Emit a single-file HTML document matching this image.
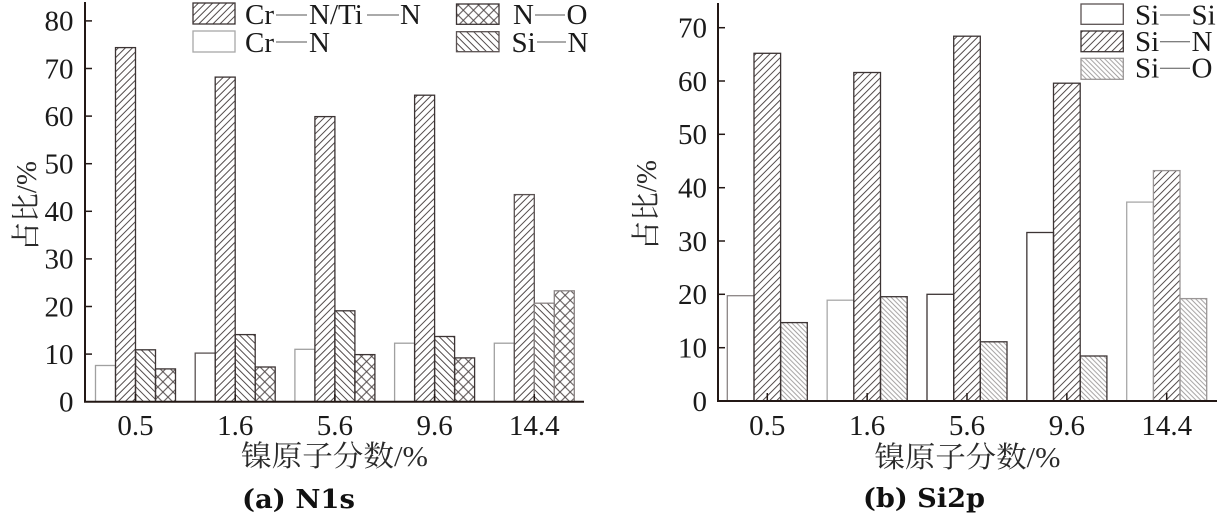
<!DOCTYPE html>
<html>
<head>
<meta charset="utf-8">
<style>
  html, body { margin: 0; padding: 0; background: #ffffff; }
  body { width: 1224px; height: 521px; overflow: hidden; }
  svg { display: block; }
  .t { font-family: "Liberation Serif", "Noto Serif CJK SC", serif; fill: #1a1a1a; }
  .cjk { font-family: "Liberation Serif", "Noto Serif CJK SC", serif; fill: #2a2a2a; }
  .ttl { font-family: "DejaVu Serif", "Liberation Serif", serif; font-weight: bold; fill: #111; }
</style>
</head>
<body>
<svg width="1224" height="521" viewBox="0 0 1224 521" xmlns="http://www.w3.org/2000/svg">
  <defs>
    <pattern id="fwd" width="5" height="5" patternUnits="userSpaceOnUse" patternTransform="rotate(45)">
      <line x1="2.5" y1="0" x2="2.5" y2="5" stroke="#4a4242" stroke-width="0.95"/>
    </pattern>
    <pattern id="bwd" width="5" height="5" patternUnits="userSpaceOnUse" patternTransform="rotate(-45)">
      <line x1="2.5" y1="0" x2="2.5" y2="5" stroke="#4a4242" stroke-width="0.95"/>
    </pattern>
    <pattern id="cross" width="7.2" height="7.2" patternUnits="userSpaceOnUse" patternTransform="rotate(45)">
      <line x1="3.6" y1="0" x2="3.6" y2="7.2" stroke="#4a4242" stroke-width="0.95"/>
      <line x1="0" y1="3.6" x2="7.2" y2="3.6" stroke="#4a4242" stroke-width="0.95"/>
    </pattern>
    <pattern id="bwdL" width="3.4" height="3.4" patternUnits="userSpaceOnUse" patternTransform="rotate(-45)">
      <line x1="1.7" y1="0" x2="1.7" y2="3.4" stroke="#8e8a8a" stroke-width="0.8"/>
    </pattern>
  </defs>

  <!-- ================= LEFT CHART (a) ================= -->
  <g stroke-width="1.3">
    <rect x="95.5" y="365.5" width="20" height="36.2" fill="#fff" stroke="#a0a0a0"/>
    <rect x="115.5" y="47.6" width="20" height="354.1" fill="url(#fwd)" stroke="#3c3434"/>
    <rect x="135.5" y="349.8" width="20" height="51.9" fill="url(#bwd)" stroke="#3c3434"/>
    <rect x="155.5" y="368.9" width="20" height="32.8" fill="url(#cross)" stroke="#3c3434"/>

    <rect x="195.2" y="353.1" width="20" height="48.6" fill="#fff" stroke="#5a5252"/>
    <rect x="215.2" y="77.1" width="20" height="324.6" fill="url(#fwd)" stroke="#3c3434"/>
    <rect x="235.2" y="334.6" width="20" height="67.1" fill="url(#bwd)" stroke="#3c3434"/>
    <rect x="255.2" y="367.0" width="20" height="34.7" fill="url(#cross)" stroke="#3c3434"/>

    <rect x="294.9" y="349.3" width="20" height="52.4" fill="#fff" stroke="#a0a0a0"/>
    <rect x="314.9" y="116.6" width="20" height="285.1" fill="url(#fwd)" stroke="#3c3434"/>
    <rect x="334.9" y="310.8" width="20" height="90.9" fill="url(#bwd)" stroke="#3c3434"/>
    <rect x="354.9" y="354.6" width="20" height="47.1" fill="url(#cross)" stroke="#3c3434"/>

    <rect x="394.6" y="343.2" width="20" height="58.5" fill="#fff" stroke="#a0a0a0"/>
    <rect x="414.6" y="95.2" width="20" height="306.5" fill="url(#fwd)" stroke="#3c3434"/>
    <rect x="434.6" y="336.5" width="20" height="65.2" fill="url(#bwd)" stroke="#3c3434"/>
    <rect x="454.6" y="357.9" width="20" height="43.8" fill="url(#cross)" stroke="#3c3434"/>

    <rect x="494.3" y="343.2" width="20" height="58.5" fill="#fff" stroke="#a0a0a0"/>
    <rect x="514.3" y="194.6" width="20" height="207.1" fill="url(#fwd)" stroke="#5a5252"/>
    <rect x="534.3" y="303.2" width="20" height="98.5" fill="url(#bwd)" stroke="#8a8484"/>
    <rect x="554.3" y="290.8" width="20" height="110.9" fill="url(#cross)" stroke="#8a8484"/>
  </g>

  <g stroke="#231815" stroke-width="2" fill="none">
    <line x1="85" y1="2" x2="85" y2="402.5"/>
    <line x1="84" y1="401.7" x2="584" y2="401.7"/>
  </g>
  <g stroke="#231815" stroke-width="1.5">
    <line x1="85" y1="354.1" x2="92" y2="354.1"/>
    <line x1="85" y1="306.5" x2="92" y2="306.5"/>
    <line x1="85" y1="258.9" x2="92" y2="258.9"/>
    <line x1="85" y1="211.3" x2="92" y2="211.3"/>
    <line x1="85" y1="163.7" x2="92" y2="163.7"/>
    <line x1="85" y1="116.1" x2="92" y2="116.1"/>
    <line x1="85" y1="68.5" x2="92" y2="68.5"/>
    <line x1="85" y1="20.9" x2="92" y2="20.9"/>
    <line x1="135.5" y1="401.7" x2="135.5" y2="394"/>
    <line x1="235.2" y1="401.7" x2="235.2" y2="394"/>
    <line x1="334.9" y1="401.7" x2="334.9" y2="394"/>
    <line x1="434.6" y1="401.7" x2="434.6" y2="394"/>
    <line x1="534.3" y1="401.7" x2="534.3" y2="394"/>
  </g>

  <g class="t" font-size="29" text-anchor="end">
    <text x="73.5" y="411.5">0</text>
    <text x="73.5" y="363.9">10</text>
    <text x="73.5" y="316.3">20</text>
    <text x="73.5" y="268.7">30</text>
    <text x="73.5" y="221.1">40</text>
    <text x="73.5" y="173.5">50</text>
    <text x="73.5" y="125.9">60</text>
    <text x="73.5" y="78.3">70</text>
    <text x="73.5" y="30.7">80</text>
  </g>
  <g class="t" font-size="29" text-anchor="middle">
    <text x="135.5" y="435">0.5</text>
    <text x="235.2" y="435">1.6</text>
    <text x="334.9" y="435">5.6</text>
    <text x="434.6" y="435">9.6</text>
    <text x="534.3" y="435">14.4</text>
  </g>
  <text class="cjk" font-size="29" x="334.5" y="466" text-anchor="middle" textLength="187" lengthAdjust="spacingAndGlyphs">镍原子分数/%</text>
  <text class="cjk" font-size="29" transform="translate(36,206) rotate(-90)" x="0" y="0" text-anchor="middle" textLength="90" lengthAdjust="spacingAndGlyphs">占比/%</text>
  <text class="ttl" font-size="26" x="242" y="508" textLength="113" lengthAdjust="spacingAndGlyphs">(a) N1s</text>

  <g stroke-width="1.3">
    <rect x="193" y="3" width="42" height="21" fill="url(#fwd)" stroke="#3c3434"/>
    <rect x="193" y="31" width="42" height="21" fill="#fff" stroke="#a8a8a8"/>
    <rect x="456.5" y="4" width="42.5" height="20.3" fill="url(#cross)" stroke="#3c3434"/>
    <rect x="456.5" y="31.7" width="42.5" height="20" fill="url(#bwd)" stroke="#5a5252"/>
  </g>
  <g class="t" font-size="29">
    <text x="245" y="24">Cr</text>
    <text x="309" y="24">N/Ti</text>
    <text x="400" y="24">N</text>
    <text x="245" y="52">Cr</text>
    <text x="309" y="52">N</text>
    <text x="513" y="24">N</text>
    <text x="566.5" y="24">O</text>
    <text x="511.5" y="52">Si</text>
    <text x="567.5" y="52">N</text>
  </g>
  <g stroke="#555" stroke-width="1">
    <line x1="276" y1="15" x2="307" y2="15"/>
    <line x1="367" y1="15" x2="399" y2="15"/>
    <line x1="276" y1="42" x2="307" y2="42"/>
    <line x1="535" y1="15" x2="565" y2="15"/>
    <line x1="537" y1="42" x2="566" y2="42"/>
  </g>

  <!-- ================= RIGHT CHART (b) ================= -->
  <g stroke-width="1.3">
    <rect x="727.3" y="295.7" width="26.7" height="105.3" fill="#fff" stroke="#8a8484"/>
    <rect x="754.0" y="53.3" width="26.6" height="347.7" fill="url(#fwd)" stroke="#3c3434"/>
    <rect x="780.6" y="322.6" width="26.7" height="78.4" fill="url(#bwdL)" stroke="#3c3434"/>

    <rect x="827.15" y="300.2" width="26.65" height="100.8" fill="#fff" stroke="#a8a8a8"/>
    <rect x="853.8" y="72.5" width="26.7" height="328.5" fill="url(#fwd)" stroke="#3c3434"/>
    <rect x="880.5" y="296.7" width="26.7" height="104.3" fill="url(#bwdL)" stroke="#3c3434"/>

    <rect x="927.0" y="294.3" width="26.7" height="106.7" fill="#fff" stroke="#3c3434"/>
    <rect x="953.7" y="36.2" width="26.6" height="364.8" fill="url(#fwd)" stroke="#3c3434"/>
    <rect x="980.3" y="341.8" width="26.7" height="59.2" fill="url(#bwdL)" stroke="#3c3434"/>

    <rect x="1026.85" y="232.5" width="26.65" height="168.5" fill="#fff" stroke="#3c3434"/>
    <rect x="1053.5" y="83.2" width="26.7" height="317.8" fill="url(#fwd)" stroke="#3c3434"/>
    <rect x="1080.2" y="356" width="26.7" height="45" fill="url(#bwdL)" stroke="#3c3434"/>

    <rect x="1126.7" y="202.1" width="26.7" height="198.9" fill="#fff" stroke="#a8a8a8"/>
    <rect x="1153.4" y="170.6" width="26.6" height="230.4" fill="url(#fwd)" stroke="#9a9696"/>
    <rect x="1180.0" y="298.6" width="26.7" height="102.4" fill="url(#bwdL)" stroke="#9a9696"/>
  </g>

  <g stroke="#231815" stroke-width="2" fill="none">
    <line x1="718" y1="3" x2="718" y2="402"/>
    <line x1="717" y1="401" x2="1217" y2="401"/>
  </g>
  <g stroke="#231815" stroke-width="1.5">
    <line x1="718" y1="347.7" x2="725" y2="347.7"/>
    <line x1="718" y1="294.3" x2="725" y2="294.3"/>
    <line x1="718" y1="241" x2="725" y2="241"/>
    <line x1="718" y1="187.7" x2="725" y2="187.7"/>
    <line x1="718" y1="134.3" x2="725" y2="134.3"/>
    <line x1="718" y1="81" x2="725" y2="81"/>
    <line x1="718" y1="27.7" x2="725" y2="27.7"/>
    <line x1="767.3" y1="401" x2="767.3" y2="393"/>
    <line x1="867.15" y1="401" x2="867.15" y2="393"/>
    <line x1="967.0" y1="401" x2="967.0" y2="393"/>
    <line x1="1066.85" y1="401" x2="1066.85" y2="393"/>
    <line x1="1166.7" y1="401" x2="1166.7" y2="393"/>
  </g>

  <g class="t" font-size="29" text-anchor="end">
    <text x="707" y="410.8">0</text>
    <text x="707" y="357.5">10</text>
    <text x="707" y="304.1">20</text>
    <text x="707" y="250.8">30</text>
    <text x="707" y="197.5">40</text>
    <text x="707" y="144.1">50</text>
    <text x="707" y="90.8">60</text>
    <text x="707" y="37.5">70</text>
  </g>
  <g class="t" font-size="29" text-anchor="middle">
    <text x="767.3" y="435">0.5</text>
    <text x="867.15" y="435">1.6</text>
    <text x="967.0" y="435">5.6</text>
    <text x="1066.85" y="435">9.6</text>
    <text x="1166.7" y="435">14.4</text>
  </g>
  <text class="cjk" font-size="29" x="967.5" y="467" text-anchor="middle" textLength="186" lengthAdjust="spacingAndGlyphs">镍原子分数/%</text>
  <text class="cjk" font-size="29" transform="translate(656,205) rotate(-90)" x="0" y="0" text-anchor="middle" textLength="90" lengthAdjust="spacingAndGlyphs">占比/%</text>
  <text class="ttl" font-size="26" x="863" y="507" textLength="122" lengthAdjust="spacingAndGlyphs">(b) Si2p</text>

  <g stroke-width="1.3">
    <rect x="1081" y="4" width="42.3" height="20.3" fill="#fff" stroke="#5a5252"/>
    <rect x="1081" y="31" width="42.3" height="20.7" fill="url(#fwd)" stroke="#3c3434"/>
    <rect x="1081" y="58.3" width="42.3" height="21" fill="url(#bwdL)" stroke="#9a9696"/>
  </g>
  <g class="t" font-size="29">
    <text x="1135" y="24.3">Si</text>
    <text x="1191.5" y="24.3">Si</text>
    <text x="1135" y="51">Si</text>
    <text x="1191.5" y="51">N</text>
    <text x="1135" y="77.7">Si</text>
    <text x="1191.5" y="77.7">O</text>
  </g>
  <g stroke="#555" stroke-width="1">
    <line x1="1160" y1="15" x2="1190" y2="15"/>
    <line x1="1160" y1="41.7" x2="1190" y2="41.7"/>
    <line x1="1160" y1="68.3" x2="1190" y2="68.3"/>
  </g>
</svg>
</body>
</html>
